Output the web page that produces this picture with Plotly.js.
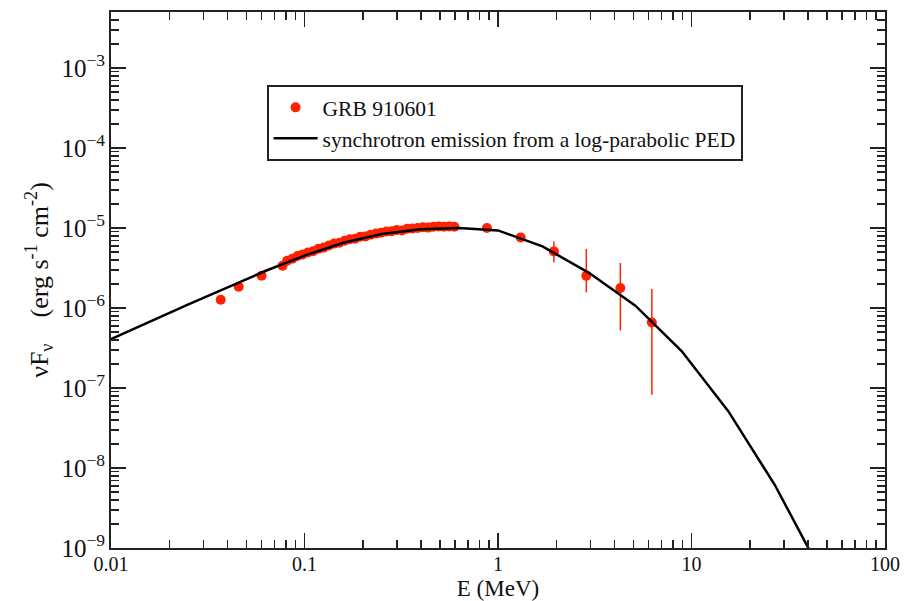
<!DOCTYPE html>
<html>
<head>
<meta charset="utf-8">
<script src="https://cdn.plot.ly/plotly-3.0.1.min.js"></script>
<style>html,body{margin:0;padding:0;background:#fff;}#chart{width:911px;height:601px;}</style>
</head>
<body>
<div id="chart"></div>
<script>
// GRB 910601 data points (E in MeV, nuFnu in erg s^-1 cm^-2)
const dataE = [0.0369, 0.0457, 0.060, 0.077,
  0.0813, 0.0865, 0.0920, 0.0979, 0.1042, 0.1109, 0.1180, 0.1256, 0.1337, 0.1422,
  0.1514, 0.1611, 0.1714, 0.1824, 0.1941, 0.2065, 0.2198, 0.2339, 0.2489, 0.2649,
  0.2818, 0.2999, 0.3192, 0.3396, 0.3614, 0.3846, 0.4093, 0.4355, 0.4634, 0.4932,
  0.5248, 0.5585, 0.5943,
  0.877, 1.31, 1.945, 2.86, 4.29, 6.24];
const dataF = [1.27e-6, 1.84e-6, 2.53e-6, 3.38e-6,
  3.89e-6, 4.12e-6, 4.47e-6, 4.68e-6, 4.95e-6, 5.13e-6, 5.50e-6, 5.69e-6, 6.03e-6, 6.38e-6,
  6.53e-6, 6.92e-6, 7.24e-6, 7.33e-6, 7.76e-6, 7.85e-6, 8.22e-6, 8.51e-6, 8.71e-6, 9.02e-6,
  9.12e-6, 9.44e-6, 9.33e-6, 9.77e-6, 9.89e-6, 1.00e-5, 1.023e-5, 1.012e-5, 1.035e-5, 1.047e-5,
  1.035e-5, 1.047e-5, 1.035e-5,
  1.00e-5, 7.63e-6, 5.10e-6, 2.53e-6, 1.78e-6, 6.60e-7];
// upper / lower error bar lengths (0 = no bar)
const errUpper = [0,0,0,0, 0,0,0,0,0,0,0,0,0,0, 0,0,0,0,0,0,0,0,0,0, 0,0,0,0,0,0,0,0,0,0, 0,0,0,
  0, 0, 1.70e-6, 2.93e-6, 1.87e-6, 1.07e-6];
const errLower = [0,0,0,0, 0,0,0,0,0,0,0,0,0,0, 0,0,0,0,0,0,0,0,0,0, 0,0,0,0,0,0,0,0,0,0, 0,0,0,
  0, 0, 1.40e-6, 0.96e-6, 1.255e-6, 5.776e-7];

// model curve: synchrotron emission from a log-parabolic PED
const modelE = [0.01, 0.01585, 0.02512, 0.03981, 0.0631, 0.1, 0.1585, 0.2512, 0.3981, 0.631,
  1.0, 1.698, 2.951, 5.129, 8.913, 15.49, 26.92, 46.77];
const modelF = [4.07e-7, 6.76e-7, 1.109e-6, 1.80e-6, 2.92e-6, 4.52e-6, 6.53e-6, 8.41e-6, 9.66e-6, 1.0e-5,
  9.33e-6, 5.89e-6, 2.75e-6, 1.07e-6, 2.88e-7, 5.13e-8, 6.17e-9, 5.0e-10];

const labelData = 'GRB 910601';
const labelModel = 'synchrotron emission from a log-parabolic PED';

const serif = 'Liberation Serif';

const traces = [
  {
    x: dataE, y: dataF, type: 'scatter', mode: 'markers', name: labelData,
    marker: {color: '#ff2200', size: 10},
    error_y: {type: 'data', symmetric: false, array: errUpper, arrayminus: errLower,
      color: '#ff2200', thickness: 1.5, width: 0}
  },
  {
    x: modelE, y: modelF, type: 'scatter', mode: 'lines', name: labelModel,
    line: {color: '#000', width: 2.5}
  }
];

const axisCommon = {
  type: 'log', showgrid: false, zeroline: false,
  showline: true, linecolor: '#222', linewidth: 2, mirror: 'allticks',
  ticks: 'inside', ticklen: 15, tickwidth: 1.5, tickcolor: '#222',
  dtick: 1,
  minor: {ticks: 'inside', ticklen: 8, tickwidth: 1.5, tickcolor: '#222', showgrid: false},
  tickfont: {family: serif, size: 20, color: '#111'}
};

const layout = {
  width: 911, height: 601,
  margin: {l: 111, r: 26, t: 12, b: 53},
  paper_bgcolor: '#fff', plot_bgcolor: '#fff',
  showlegend: true,
  legend: {
    x: 0.201, y: 0.864, xanchor: 'left', yanchor: 'top',
    bordercolor: '#222', borderwidth: 2, bgcolor: '#fff',
    font: {family: serif, size: 21.5, color: '#111'},
    itemwidth: 44, tracegroupgap: 0
  },
  xaxis: Object.assign({}, axisCommon, {
    range: [-2, 2], exponentformat: 'none', ticklabelstandoff: -3,
    title: {text: 'E (MeV)', font: {family: serif, size: 23, color: '#111'}}
  }),
  yaxis: Object.assign({}, axisCommon, {
    range: [-9, -2.3], exponentformat: 'power',
    title: {text: 'νF<sub>ν</sub>\u2003(erg s<sup>-1</sup> cm<sup>-2</sup>)', font: {family: serif, size: 26, color: '#111'}}
  })
};

Plotly.newPlot('chart', traces, layout, {displayModeBar: false, staticPlot: true});
</script>
</body>
</html>
